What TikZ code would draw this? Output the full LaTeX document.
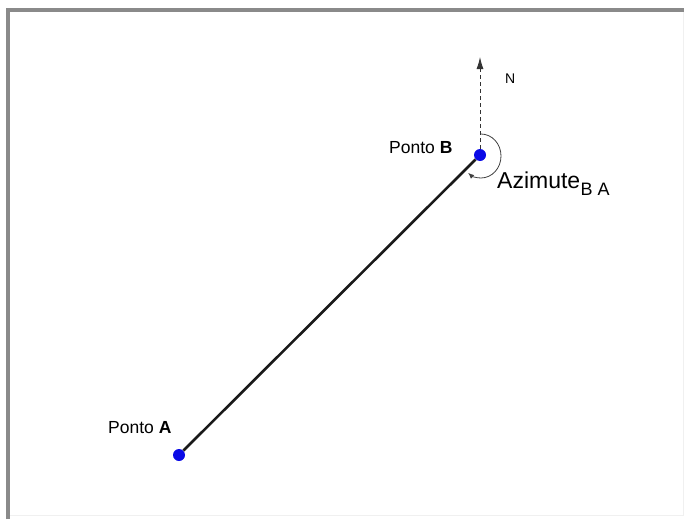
\documentclass[tikz,border=0pt]{standalone}
\usepackage{fontspec}
\setmainfont{Liberation Sans}
\usetikzlibrary{arrows.meta}
\definecolor{dotblue}{RGB}{10,10,230}
\definecolor{framegray}{RGB}{138,138,138}
\tikzset{
  dotpt/.style={circle,fill=dotblue,inner sep=0pt,minimum size=12pt},
  lbl/.style={anchor=base west,inner sep=0pt,font=\fontsize{17.5}{20}\selectfont},
  segment/.style={line width=2.6pt,black!90},
  northline/.style={line width=0.9pt,dash pattern=on 4pt off 3pt,black!80,-{Latex[length=12pt,width=7pt]}},
  azarc/.style={line width=0.8pt,black!75,-{Latex[length=6pt,width=5pt]}},
  framel/.style={line width=4pt,framegray}
}
\begin{document}
\begin{tikzpicture}[x=1pt,y=-1pt]
\useasboundingbox (0,0) rectangle (684,519);
% frame
\draw[line width=1pt,black!6] (683,10) -- (683,515) -- (8,515);
\draw[framel] (8,519) -- (8,10) -- (684,10);
% points
\node[dotpt] (B) at (480,155) {};
\node[dotpt] (A) at (179,455) {};
\coordinate (Ntip) at (480,57);
% connectors
\draw[segment] (A) -- (B);
\draw[northline] (B.north) -- (Ntip);
\draw[azarc] (481,134) arc[start angle=-90,end angle=130,x radius=20,y radius=22];
% labels
\node[lbl] (lA) at (108,433) {Ponto \textbf{A}};
\node[lbl] (lB) at (389,153) {Ponto \textbf{B}};
\node[lbl,font=\fontsize{14}{16}\selectfont] (lN) at (505,83) {N};
\node[lbl,font=\fontsize{23}{26}\selectfont] (lAz) at (497,188) {Azimute};
\node[lbl,font=\fontsize{18}{20}\selectfont] (lBA) at (lAz.base east) [yshift=-7pt] {B A};
\end{tikzpicture}
\end{document}
